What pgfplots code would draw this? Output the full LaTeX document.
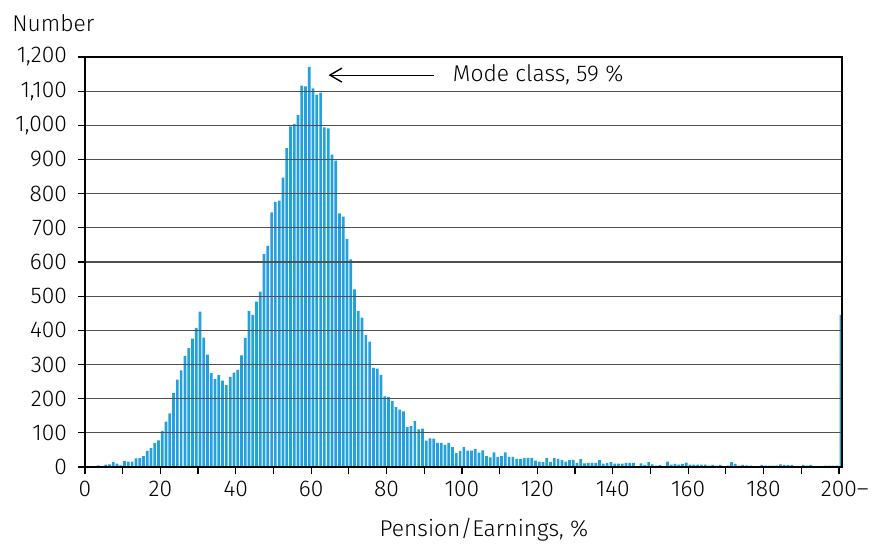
\documentclass[border=0pt]{standalone}
\usepackage{fontspec}
\IfFontExistsTF{Fira Sans Light}{\setmainfont{Fira Sans Light}}{\setmainfont{Fira Sans}}
\usepackage{pgfplots}
\usepackage{pgfplotstable}
\pgfplotsset{compat=1.18}
\usetikzlibrary{arrows.meta}

\definecolor{barblue}{RGB}{36,160,220}
\definecolor{gridgray}{RGB}{80,80,80}

% class (lower bound, %) and number of persons; 200 = 200 and above
\pgfplotstableread{
x y
0 0
1 0
2 0
3 5
4 0
5 7
6 8
7 14
8 10
9 5
10 18
11 16
12 16
13 25
14 26
15 32
16 47
17 55
18 70
19 78
20 106
21 133
22 157
23 217
24 256
25 283
26 325
27 348
28 376
29 407
30 455
31 379
32 329
33 275
34 258
35 269
36 253
37 240
38 264
39 276
40 284
41 327
42 378
43 457
44 445
45 484
46 513
47 623
48 647
49 745
50 776
51 780
52 847
53 933
54 997
55 1004
56 1030
57 1116
58 1114
59 1171
60 1108
61 1090
62 1096
63 994
64 991
65 914
66 897
67 742
68 733
69 668
70 608
71 520
72 457
73 437
74 386
75 367
76 290
77 288
78 270
79 207
80 205
81 193
82 175
83 168
84 163
85 117
86 120
87 134
88 110
89 112
90 77
91 84
92 83
93 71
94 71
95 65
96 71
97 58
98 41
99 47
100 58
101 48
102 48
103 52
104 42
105 49
106 32
107 28
108 43
109 29
110 32
111 43
112 30
113 30
114 24
115 23
116 26
117 27
118 27
119 19
120 16
121 14
122 26
123 15
124 26
125 24
126 20
127 16
128 20
129 21
130 12
131 23
132 11
133 12
134 12
135 12
136 20
137 10
138 12
139 14
140 10
141 10
142 10
143 12
144 12
145 12
146 0
147 11
148 6
149 14
150 8
151 4
152 6
153 2
154 16
155 7
156 9
157 7
158 9
159 13
160 7
161 7
162 7
163 7
164 7
165 4
166 6
167 4
168 6
169 2
170 4
171 14
172 9
173 4
174 6
175 5
176 4
177 2
178 2
179 6
180 4
181 4
182 4
183 4
184 8
185 6
186 6
187 6
188 2
189 0
190 6
191 4
192 6
193 0
194 0
195 2
196 4
197 4
198 4
199 4
200 445
}\pensiondata

\begin{document}
\begin{tikzpicture}
\begin{axis}[
    scale only axis,
    width=378.5pt, height=205pt,
    font=\fontsize{11.4}{13.5}\selectfont,
    xmin=0, xmax=200.8,
    ymin=0, ymax=1200,
    ybar, bar width=0.72,
    axis on top,
    xtick={0,20,...,200},
    xticklabels={0,20,40,60,80,100,120,140,160,180,200\rlap{--}},
    minor xtick={10,30,...,190},
    ytick={0,100,...,1200},
    ymajorgrids,
    major grid style={gridgray, line width=0.6pt},
    axis line style={black, line width=0.7pt},
    tick style={black, line width=0.6pt},
    tick align=outside,
    tick pos=left,
    major tick length=3.5pt,
    minor tick length=3.5pt,
    /pgf/number format/assume math mode=true,
    /pgf/number format/1000 sep={,},
    scaled y ticks=false,
    xlabel={Pension/Earnings, \%},
    xlabel style={at={(ticklabel cs:0.527)}, anchor=north, yshift=-4pt},
    yticklabel style={xshift=-2pt},
    clip=false,
]
\addplot[fill=barblue, draw=none] table[x expr=\thisrow{x}+0.5, y=y] {\pensiondata};
\draw[black, line width=0.6pt, -{Straight Barb[length=6pt, width=7pt, line width=0.7pt]}]
    (axis cs:92.5,1147) -- (axis cs:64.6,1147);
\node[anchor=west, inner sep=0pt] at (axis cs:97.5,1147) {Mode class, 59 \%};
\node[anchor=base west, inner sep=0pt] at ([shift={(-36.5pt,13pt)}]rel axis cs:0,1) {Number};
\end{axis}
\pgfresetboundingbox
\path[use as bounding box] ([shift={(-42.5pt,-38pt)}]current axis.south west) rectangle ([shift={(15pt,28.5pt)}]current axis.north east);
\end{tikzpicture}
\end{document}
